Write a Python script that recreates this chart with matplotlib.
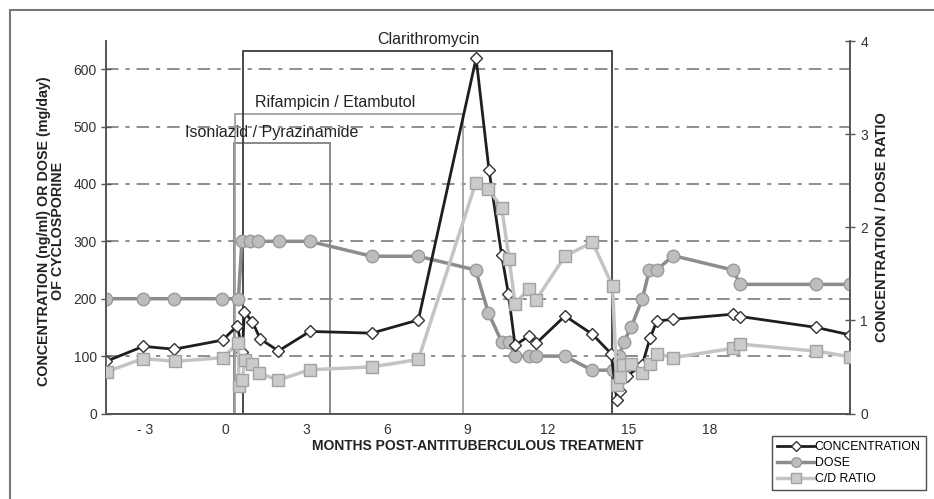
import matplotlib
matplotlib.use("Agg")
import matplotlib.pyplot as plt
from matplotlib.patches import Rectangle
from matplotlib.lines import Line2D

plt.rcParams['font.family'] = ['Liberation Sans', 'DejaVu Sans']
plt.rcParams['lines.scale_dashes'] = False

# months post-treatment vs concentration (ng/ml)
conc_x = [-4.45, -3.07, -1.92, -0.11, 0.43, 0.62, 0.69, 0.99, 1.28, 1.96, 3.13, 5.43, 7.17,
          9.32, 9.8, 10.27, 10.52, 10.77, 11.29, 11.55, 12.63, 13.65, 14.35, 14.56, 14.66,
          14.94, 15.5, 15.8, 16.05, 16.64, 18.88, 19.15, 21.98, 23.24]
conc_y = [91, 117, 112, 128, 153, 108, 177, 160, 130, 109, 143, 140, 163,
          619, 424, 276, 209, 119, 135, 122, 170, 138, 104, 23, 39,
          66, 84, 132, 161, 164, 173, 169, 150, 137]

# dose (mg/day)
dose_x = [-4.46, -3.09, -1.92, -0.15, 0.47, 0.6, 0.9, 1.21, 1.99, 3.12, 5.43, 7.17, 9.3,
          9.78, 10.27, 10.54, 10.77, 11.3, 11.55, 12.63, 13.65, 14.43, 14.65, 14.82, 15.09,
          15.51, 15.77, 16.04, 16.66, 18.88, 19.15, 21.98, 23.24]
dose_y = [200, 200, 200, 200, 200, 300, 300, 300, 300, 300, 274, 274, 250,
          175, 125, 125, 100, 100, 100, 100, 75, 76, 100, 125, 150,
          200, 250, 250, 275, 250, 225, 225, 225]

# C/D ratio (right axis)
ratio_x = [-4.43, -3.07, -1.89, -0.11, 0.47, 0.48, 0.6, 0.72, 0.99, 1.25, 1.96, 3.13, 5.43,
           7.17, 9.3, 9.78, 10.27, 10.55, 10.77, 11.29, 11.55, 12.63, 13.65, 14.4, 14.56,
           14.66, 14.8, 15.08, 15.51, 15.8, 16.05, 16.66, 18.88, 19.15, 21.98, 23.24]
ratio_y = [0.45, 0.59, 0.56, 0.60, 0.76, 0.29, 0.36, 0.57, 0.53, 0.43, 0.36, 0.47, 0.50,
           0.58, 2.47, 2.41, 2.21, 1.66, 1.18, 1.34, 1.22, 1.69, 1.84, 1.37, 0.31,
           0.39, 0.52, 0.53, 0.43, 0.53, 0.64, 0.60, 0.70, 0.745, 0.67, 0.61]

# drug periods: name, start, end, box top
drugs = ['Isoniazid / Pyrazinamide', 'Rifampicin / Etambutol', 'Clarithromycin']
drug_start = [0.31, 0.35, 0.65]
drug_end = [3.88, 8.82, 14.38]
drug_top = [471, 521, 631]
drug_colors = ['#808080', '#a0a0a0', '#3c3c3c']

xticks = [-3, 0, 3, 6, 9, 12, 15, 18]
xticklabels = ['- 3', '0', '3', '6', '9', '12', '15', '18']

fig = plt.figure(figsize=(9.34, 4.99), dpi=100)
fig.add_artist(Rectangle((10/934, -0.1), 1.0, 1 - 10/499 + 0.1, transform=fig.transFigure,
                         fill=False, edgecolor='#777777', lw=1.5))

ax = fig.add_axes([106/934, 1 - 413.5/499, 744/934, 372.5/499])
ax2 = ax.twinx()

ax.set_xlim(-4.46, 23.24)
ax.set_ylim(0, 649)
ax2.set_ylim(0, 649/162.3)

ax.yaxis.grid(True, color='#707070', lw=1.1, dashes=(9, 5, 3, 5))
ax.set_axisbelow(True)

for name, s, e, t, c in zip(drugs, drug_start, drug_end, drug_top, drug_colors):
    ax.add_patch(Rectangle((s, 0), e - s, t, fill=False, edgecolor=c, lw=1.3, zorder=1.5))
ax.text(7.55, 638, drugs[2], ha='center', va='bottom', fontsize=11.5, color='#222222')
ax.text(1.09, 541, drugs[1], ha='left', va='center', fontsize=11.5, color='#222222')
ax.text(-1.51, 489, drugs[0], ha='left', va='center', fontsize=11.5, color='#222222')

ax.plot(dose_x, dose_y, color='#8c8c8c', lw=2.5, marker='o', ms=9,
        mfc='#bdbdbd', mec='#9a9a9a', mew=1, zorder=3)
ax.plot(conc_x, conc_y, color='#1e1e1e', lw=2, marker='D', ms=6,
        mfc='white', mec='#333333', mew=1, zorder=4)
ax2.plot(ratio_x, ratio_y, color='#c4c4c4', lw=2.5, marker='s', ms=8,
         mfc='#cbcbcb', mec='#a2a2a2', mew=1, zorder=3)

ax.set_xticks(xticks)
ax.set_xticklabels(xticklabels)
ax.tick_params(axis='x', length=0, pad=7, labelsize=10, labelcolor='#333333')
ax.set_yticks(range(0, 700, 100))
ax.tick_params(axis='y', direction='inout', length=7, width=1, color='#555555',
               labelsize=10, labelcolor='#333333', pad=3)
ax2.set_yticks([0, 1, 2, 3, 4])
ax2.tick_params(axis='y', direction='inout', length=7, width=1, color='#555555',
                labelsize=10, labelcolor='#333333', pad=4)

for a in (ax, ax2):
    a.spines['top'].set_visible(False)
    for sp in ('left', 'right', 'bottom'):
        a.spines[sp].set_color('#555555')
        a.spines[sp].set_linewidth(1.2)

ax.set_xlabel('MONTHS POST-ANTITUBERCULOUS TREATMENT', fontsize=10, fontweight='bold',
              color='#222222', labelpad=1)
ax.set_ylabel('CONCENTRATION (ng/ml) OR DOSE (mg/day)\nOF CYCLOSPORINE', fontsize=10.3,
              fontweight='bold', color='#222222', linespacing=1.0)
ax.yaxis.set_label_coords(-0.055, 0.49)
ax2.set_ylabel('CONCENTRATION / DOSE RATIO', fontsize=10.5, fontweight='bold', color='#222222')
ax2.yaxis.set_label_coords(1.033, 0.5)

handles = [
    Line2D([], [], color='#1e1e1e', lw=2, marker='D', ms=5, mfc='white', mec='#333333'),
    Line2D([], [], color='#8c8c8c', lw=2.5, marker='o', ms=7, mfc='#bdbdbd', mec='#9a9a9a'),
    Line2D([], [], color='#c4c4c4', lw=2.5, marker='s', ms=7, mfc='#cbcbcb', mec='#a2a2a2'),
]
leg = fig.legend(handles, ['CONCENTRATION', 'DOSE', 'C/D RATIO'], loc='upper right',
                 bbox_to_anchor=(926/934, 1 - 436/499), fontsize=8.8, frameon=True,
                 fancybox=False, edgecolor='#222222', handlelength=3.0, handletextpad=0.05,
                 borderpad=0.45, labelspacing=0.3, borderaxespad=0)
leg.get_frame().set_linewidth(1)

fig.savefig('out.png', dpi=100)
